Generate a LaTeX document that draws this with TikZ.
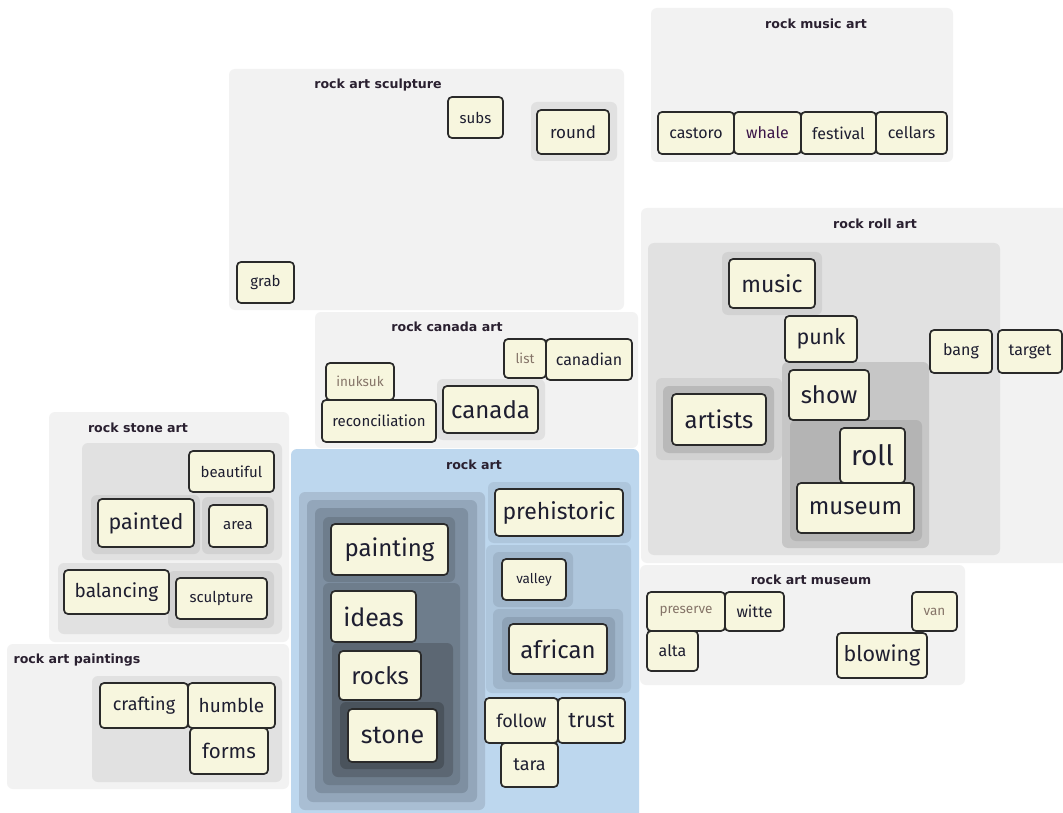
\documentclass[tikz,border=0pt]{standalone}
\usepackage{fontspec}
\setmainfont{Fira Sans}
\newfontfamily\titlefont{DejaVu Sans}
\definecolor{panel}{HTML}{F2F2F2}
\definecolor{gA}{HTML}{E1E1E1}
\definecolor{gB}{HTML}{D2D2D2}
\definecolor{gC}{HTML}{C6C6C6}
\definecolor{gD}{HTML}{B4B4B4}
\definecolor{bPanel}{HTML}{BDD7EE}
\definecolor{bA}{HTML}{A9BED3}
\definecolor{bB}{HTML}{93A6BA}
\definecolor{bC}{HTML}{7E8FA1}
\definecolor{bD}{HTML}{6E7D8C}
\definecolor{bE}{HTML}{5C6773}
\definecolor{bF}{HTML}{4A535C}
\definecolor{bR}{HTML}{AEC6DC}
\definecolor{bS}{HTML}{9FB5CA}
\definecolor{bT}{HTML}{8EA2B6}
\definecolor{cream}{HTML}{F7F6DE}
\definecolor{edge}{HTML}{2A2A2A}
\definecolor{ink}{HTML}{1E1E30}
\definecolor{inkTitle}{HTML}{2A2030}
\definecolor{faint}{HTML}{857468}
\tikzset{
  wbox/.style={draw=edge, fill=cream, line width=1.7pt, rounded corners=4pt,
    inner sep=0pt, text=ink, anchor=center},
  ttl/.style={font=\titlefont\bfseries\fontsize{12.6}{12.6}\selectfont, text=inkTitle, inner sep=0pt}
}
% word box: [options]{name}{x1}{y1}{x2}{y2}{font size}{text}
\newcommand\wb[8][]{\node[wbox, minimum width={(#5-#3)*1pt}, minimum height={(#6-#4)*1pt},
  font=\fontsize{#7}{#7}\selectfont, #1] (#2) at ({(#3+#5)/2},{(#4+#6)/2}) {#8};}
% grouping rectangle: {colour}{x1}{y1}{x2}{y2}
\newcommand\grp[5]{\fill[rounded corners=6pt, fill=#1] (#2,#3) rectangle (#4,#5);}
\begin{document}
\begin{tikzpicture}[x=1pt, y=-1pt]
\useasboundingbox (0,0) rectangle (1063,813);
\clip (0,0) rectangle (1063,813);
\fill[white] (0,0) rectangle (1063,813);

% ---- rock music art
\grp{panel}{651}{8}{953}{162}
\node[ttl] (t-music) at (816,24) {rock music art};
\wb{castoro}{658}{112}{734}{154}{16}{castoro}
\wb[text=ink!70!violet]{whale}{734}{112}{801}{154}{16}{whale}
\wb{festival}{801}{112}{876}{154}{16}{festival}
\wb{cellars}{876}{112}{947}{154}{16}{cellars}

% ---- rock art sculpture
\grp{panel}{229}{69}{624}{310}
\node[ttl] (t-sculpt) at (378,85) {rock art sculpture};
\grp{gA}{531}{102}{617}{161}
\wb{subs}{448}{97}{503}{138}{15}{subs}
\wb{round}{537}{110}{609}{154}{17}{round}
\wb{grab}{237}{262}{294}{303}{15}{grab}

% ---- rock canada art
\grp{panel}{315}{312}{638}{448}
\node[ttl] (t-canada) at (447,327) {rock canada art};
\grp{gA}{437}{379}{545}{440}
\wb[text=faint]{list}{504}{339}{546}{378}{13.5}{list}
\wb{canadian}{546}{339}{632}{380}{16}{canadian}
\wb[text=faint]{inuksuk}{326}{363}{394}{400}{13.5}{inuksuk}
\wb{reconciliation}{322}{400}{436}{442}{15}{reconciliation}
\wb{canada}{443}{386}{538}{433}{24}{canada}

% ---- rock stone art
\grp{panel}{49}{412}{289}{642}
\node[ttl] (t-stone) at (138,428) {rock stone art};
\grp{gA}{82}{443}{282}{560}
\grp{gB}{91}{495}{200}{554}
\grp{gB}{202}{497}{274}{554}
\grp{gA}{58}{563}{282}{634}
\grp{gB}{168}{571}{274}{628}
\wb{beautiful}{189}{451}{274}{492}{15}{beautiful}
\wb{painted}{98}{499}{194}{547}{21.5}{painted}
\wb{area}{209}{505}{267}{547}{15}{area}
\wb{balancing}{64}{570}{169}{614}{19}{balancing}
\wb{sculpture}{176}{578}{267}{619}{15}{sculpture}

% ---- rock art paintings
\grp{panel}{7}{644}{289}{789}
\node[ttl] (t-paint) at (77,660) {rock art paintings};
\grp{gA}{92}{676}{282}{782}
\wb{crafting}{100}{683}{188}{728}{18}{crafting}
\wb{humble}{188}{683}{275}{728}{19}{humble}
\wb{forms}{190}{728}{268}{774}{20.5}{forms}

% ---- rock art
\grp{bPanel}{291}{449}{639}{830}
\node[ttl] (t-rockart) at (474,465) {rock art};
\grp{bA}{299}{492}{485}{810}
\grp{bB}{307}{500}{477}{802}
\grp{bC}{315}{508}{468}{793}
\grp{bD}{323}{517}{455}{582}
\grp{bD}{323}{583}{460}{785}
\grp{bE}{332}{643}{453}{777}
\grp{bF}{340}{702}{444}{769}
\wb{painting}{331}{524}{448}{575}{24}{painting}
\wb{ideas}{331}{591}{416}{642}{25}{ideas}
\wb{rocks}{339}{651}{421}{700}{24}{rocks}
\wb{stone}{348}{709}{437}{762}{25}{stone}
\grp{bR}{488}{482}{631}{543}
\grp{bR}{486}{545}{631}{693}
\grp{bS}{493}{552}{573}{607}
\grp{bS}{493}{609}{623}{689}
\grp{bT}{502}{617}{615}{682}
\wb{prehistoric}{495}{489}{623}{536}{23}{prehistoric}
\wb{valley}{502}{559}{566}{600}{13.5}{valley}
\wb{african}{509}{624}{607}{674}{24}{african}
\wb{follow}{485}{698}{558}{743}{18}{follow}
\wb{trust}{558}{698}{625}{743}{21.5}{trust}
\wb{tara}{501}{743}{558}{787}{18}{tara}

% ---- rock roll art
\grp{panel}{641}{208}{1080}{563}
\node[ttl] (t-roll) at (875,224) {rock roll art};
\grp{gA}{648}{243}{1000}{555}
\grp{gB}{722}{252}{822}{315}
\grp{gC}{782}{362}{929}{548}
\grp{gD}{790}{420}{922}{541}
\grp{gB}{656}{378}{782}{460}
\grp{gD!70!gC}{663}{386}{774}{453}
\wb{music}{729}{259}{815}{308}{23}{music}
\wb{punk}{785}{316}{857}{362}{21.5}{punk}
\wb{show}{789}{370}{869}{420}{24}{show}
\wb{roll}{840}{428}{905}{483}{28}{roll}
\wb{museum}{797}{483}{914}{533}{24}{museum}
\wb{artists}{672}{394}{766}{445}{24}{artists}
\wb{bang}{930}{330}{992}{373}{16}{bang}
\wb{target}{998}{330}{1062}{373}{16}{target}

% ---- rock art museum
\grp{panel}{640}{565}{965}{685}
\node[ttl] (t-museum) at (811,580) {rock art museum};
\wb[text=faint]{preserve}{647}{592}{725}{631}{13.5}{preserve}
\wb{witte}{725}{592}{784}{631}{16}{witte}
\wb{alta}{647}{631}{698}{671}{16}{alta}
\wb[text=faint]{van}{912}{592}{957}{631}{13.5}{van}
\wb{blowing}{837}{633}{927}{678}{21.5}{blowing}
\end{tikzpicture}
\end{document}
